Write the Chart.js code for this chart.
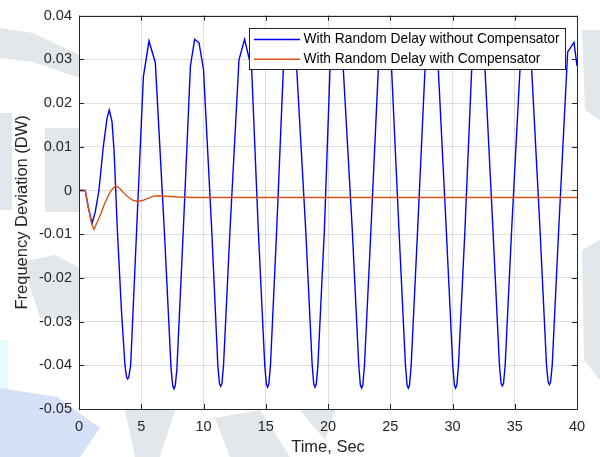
<!DOCTYPE html>
<html>
<head>
<meta charset="utf-8">
<script src="https://cdn.jsdelivr.net/npm/chart.js@4.4.1/dist/chart.umd.min.js"></script>
<style>
  html, body { margin: 0; padding: 0; background: #fff; }
  canvas { display: block; }
</style>
</head>
<body>
<canvas id="freqChart" width="600" height="457"></canvas>
<script>
// -----------------------------
// Data
// -----------------------------
const seriesNames = [
  "With Random Delay without Compensator",
  "With Random Delay with Compensator"
];

// blue: without compensator (time in s, deviation)
const blueTime = [
  0, 0.5, 0.75, 1.05, 1.3, 1.6, 1.95, 2.25, 2.43, 2.65, 2.82,
  3.08, 3.4, 3.69, 3.82, 3.91, 4.0, 4.15, 4.63,
  5.17, 5.62, 6.13,
  6.85, 7.4, 7.53, 7.63, 7.73, 7.86, 8.38,
  8.95, 9.29, 9.64, 10.0,
  10.66, 11.15, 11.28, 11.38, 11.48, 11.61, 12.13,
  12.85, 13.3, 13.87,
  14.4, 14.92, 15.05, 15.15, 15.25, 15.38, 15.88,
  16.41, 16.95, 17.49,
  18.21, 18.73, 18.86, 18.96, 19.06, 19.19, 19.71,
  20.16, 20.7, 21.23,
  21.95, 22.47, 22.6, 22.7, 22.8, 22.93, 23.45,
  24.04, 24.58, 25.11,
  25.7, 26.22, 26.35, 26.45, 26.55, 26.68, 27.2,
  27.79, 28.33, 28.86,
  29.5, 30.02, 30.15, 30.25, 30.35, 30.48, 31.0,
  31.54, 32.08, 32.61,
  33.25, 33.77, 33.9, 34.0, 34.1, 34.23, 34.75,
  35.42, 35.89, 36.36,
  37.03, 37.55, 37.68, 37.78, 37.88, 38.01, 38.53,
  39.25, 39.76, 40.0
];
const blueValue = [
  0, 0, -0.004, -0.0075, -0.005, 0, 0.01, 0.0165, 0.0184, 0.0158, 0.009,
  -0.009, -0.027, -0.040, -0.0427, -0.0431, -0.0427, -0.040, -0.009,
  0.026, 0.0342, 0.0293,
  -0.009, -0.041, -0.0447, -0.0454, -0.0447, -0.041, -0.009,
  0.0285, 0.0346, 0.0338, 0.0277,
  -0.009, -0.040, -0.0442, -0.0448, -0.0442, -0.040, -0.009,
  0.0299, 0.0346, 0.0277,
  -0.009, -0.040, -0.0443, -0.045, -0.0443, -0.040, -0.009,
  0.0277, 0.0348, 0.0277,
  -0.009, -0.040, -0.0443, -0.045, -0.0443, -0.040, -0.009,
  0.0277, 0.0348, 0.0277,
  -0.009, -0.040, -0.0445, -0.0452, -0.0445, -0.040, -0.009,
  0.0277, 0.0348, 0.0277,
  -0.009, -0.040, -0.0445, -0.0452, -0.0445, -0.040, -0.009,
  0.0277, 0.0348, 0.0277,
  -0.009, -0.040, -0.0445, -0.0452, -0.0445, -0.040, -0.009,
  0.0277, 0.0348, 0.0277,
  -0.009, -0.040, -0.0441, -0.0447, -0.0441, -0.040, -0.009,
  0.0277, 0.0348, 0.0277,
  -0.009, -0.040, -0.0438, -0.0444, -0.0438, -0.040, -0.009,
  0.0317, 0.0339, 0.0285
];

// red: with compensator
const redTime = [
  0, 0.5, 0.8, 1.0, 1.2, 1.53, 1.8, 2.06, 2.35, 2.6, 2.95, 3.3, 3.6,
  3.94, 4.3, 4.68, 5.1, 5.54, 6.0, 6.43, 7.0, 7.95, 9.3, 40
];
const redValue = [
  0, 0, -0.0045, -0.0075, -0.0089, -0.0068, -0.005, -0.003, -0.0012, 0.0001, 0.0011, 0.0004, -0.0006,
  -0.0015, -0.0022, -0.0025, -0.0023, -0.0018, -0.0013, -0.0012, -0.0013, -0.0015, -0.0016, -0.0016
];

// axis ranges / ticks
const xRange = [0, 40];
const xStep = 5;
const yRange = [-0.05, 0.04];
const yStep = 0.01;

const toPoints = (xs, ys) => xs.map((x, i) => ({ x: x, y: ys[i] }));

const FONT = "'Liberation Sans', Arial, Helvetica, sans-serif";
const AXIS_COLOR = "#262626";

// -----------------------------
// Background watermark + white axes face
// -----------------------------
const backgroundPlugin = {
  id: "background",
  beforeDraw(chart) {
    const ctx = chart.ctx;
    const a = chart.chartArea;
    ctx.save();
    ctx.fillStyle = "#ffffff";
    ctx.fillRect(0, 0, chart.width, chart.height);

    const poly = (color, pts) => {
      ctx.fillStyle = color;
      ctx.beginPath();
      ctx.moveTo(pts[0][0], pts[0][1]);
      for (let i = 1; i < pts.length; i++) ctx.lineTo(pts[i][0], pts[i][1]);
      ctx.closePath();
      ctx.fill();
    };
    const grey = "#e1e7ea";
    poly(grey, [[0, 28], [33, 33], [80, 55], [80, 78], [33, 62], [0, 58]]);
    poly(grey, [[0, 113], [12, 113], [12, 210], [0, 210]]);
    poly(grey, [[45, 128], [80, 128], [80, 212], [45, 212]]);
    poly(grey, [[22, 262], [55, 255], [80, 268], [80, 320], [40, 318]]);
    poly("#e6fbfd", [[0, 340], [8, 340], [8, 443], [0, 443]]);
    poly("#d6e0f6", [[0, 388], [57, 397], [100, 428], [80, 457], [0, 457]]);
    poly(grey, [[125, 410], [175, 410], [160, 457], [135, 457]]);
    poly(grey, [[215, 418], [260, 410], [290, 457], [230, 457]]);
    poly(grey, [[300, 410], [335, 410], [325, 440]]);
    poly(grey, [[582, 30], [600, 30], [600, 120], [585, 110]]);
    poly(grey, [[582, 250], [600, 240], [600, 380], [584, 360]]);

    ctx.fillStyle = "#ffffff";
    ctx.fillRect(a.left, a.top, a.right - a.left, a.bottom - a.top);
    ctx.restore();
  }
};

// -----------------------------
// Box, inward ticks and legend (MATLAB style)
// -----------------------------
const framePlugin = {
  id: "frame",
  afterDraw(chart) {
    const ctx = chart.ctx;
    const a = chart.chartArea;
    const xs = chart.scales.x;
    const ys = chart.scales.y;
    const tick = 5;
    ctx.save();
    ctx.strokeStyle = AXIS_COLOR;
    ctx.lineWidth = 1;
    ctx.beginPath();
    xs.ticks.forEach(t => {
      const px = Math.round(xs.getPixelForValue(t.value)) + 0.5;
      ctx.moveTo(px, a.bottom); ctx.lineTo(px, a.bottom - tick);
      ctx.moveTo(px, a.top); ctx.lineTo(px, a.top + tick);
    });
    ys.ticks.forEach(t => {
      const py = Math.round(ys.getPixelForValue(t.value)) + 0.5;
      ctx.moveTo(a.left, py); ctx.lineTo(a.left + tick, py);
      ctx.moveTo(a.right, py); ctx.lineTo(a.right - tick, py);
    });
    ctx.stroke();
    ctx.strokeRect(Math.round(a.left) + 0.5, Math.round(a.top) + 0.5,
      Math.round(a.right - a.left), Math.round(a.bottom - a.top));

    // legend box
    const lx = 249.5, ly = 28.5, lw = 316, lh = 41;
    ctx.fillStyle = "#ffffff";
    ctx.fillRect(lx, ly, lw, lh);
    ctx.strokeStyle = AXIS_COLOR;
    ctx.strokeRect(lx, ly, lw, lh);
    ctx.font = "13.75px " + FONT;
    ctx.textBaseline = "middle";
    ctx.textAlign = "left";
    chart.data.datasets.forEach((ds, i) => {
      const rowY = 39.5 + i * 19.8;
      ctx.strokeStyle = ds.borderColor;
      ctx.lineWidth = 1.5;
      ctx.beginPath();
      ctx.moveTo(254, rowY); ctx.lineTo(300, rowY);
      ctx.stroke();
      ctx.fillStyle = "#000000";
      ctx.fillText(ds.label, 303.5, rowY);
    });
    ctx.restore();
  }
};

// -----------------------------
// Chart
// -----------------------------
const ctx = document.getElementById("freqChart").getContext("2d");

const freqChart = new Chart(ctx, {
  type: "line",
  data: {
    datasets: [
      {
        label: seriesNames[0],
        data: toPoints(blueTime, blueValue),
        borderColor: "#0000ff",
        borderWidth: 1.4,
        pointRadius: 0,
        tension: 0,
        order: 2
      },
      {
        label: seriesNames[1],
        data: toPoints(redTime, redValue),
        borderColor: "#d95319",
        borderWidth: 1.4,
        pointRadius: 0,
        tension: 0,
        order: 1
      }
    ]
  },
  options: {
    responsive: false,
    animation: false,
    devicePixelRatio: 1,
    layout: { padding: { top: 15, right: 23, left: 0, bottom: 0 } },
    plugins: {
      legend: { display: false },
      tooltip: { enabled: false }
    },
    scales: {
      x: {
        type: "linear",
        min: xRange[0],
        max: xRange[1],
        afterFit: s => { s.height = 48; },
        ticks: {
          stepSize: xStep,
          padding: 9.5,
          color: AXIS_COLOR,
          font: { family: FONT, size: 14.5 },
          maxRotation: 0
        },
        grid: { color: "rgba(38,38,38,0.15)", drawTicks: false },
        border: { display: false },
        title: {
          display: true,
          text: "Time, Sec",
          color: AXIS_COLOR,
          font: { family: FONT, size: 16.5 },
          padding: { top: 0, bottom: 0 }
        }
      },
      y: {
        type: "linear",
        min: yRange[0],
        max: yRange[1],
        afterFit: s => { s.width = 79; },
        ticks: {
          stepSize: yStep,
          padding: 7,
          color: AXIS_COLOR,
          font: { family: FONT, size: 14.5 },
          callback: v => String(Math.round(v * 100) / 100)
        },
        grid: { color: "rgba(38,38,38,0.15)", drawTicks: false },
        border: { display: false },
        title: {
          display: true,
          text: "Frequency Deviation (DW)",
          color: AXIS_COLOR,
          font: { family: FONT, size: 16.5 },
          padding: { top: 13, bottom: 0 }
        }
      }
    }
  },
  plugins: [backgroundPlugin, framePlugin]
});
</script>
</body>
</html>
